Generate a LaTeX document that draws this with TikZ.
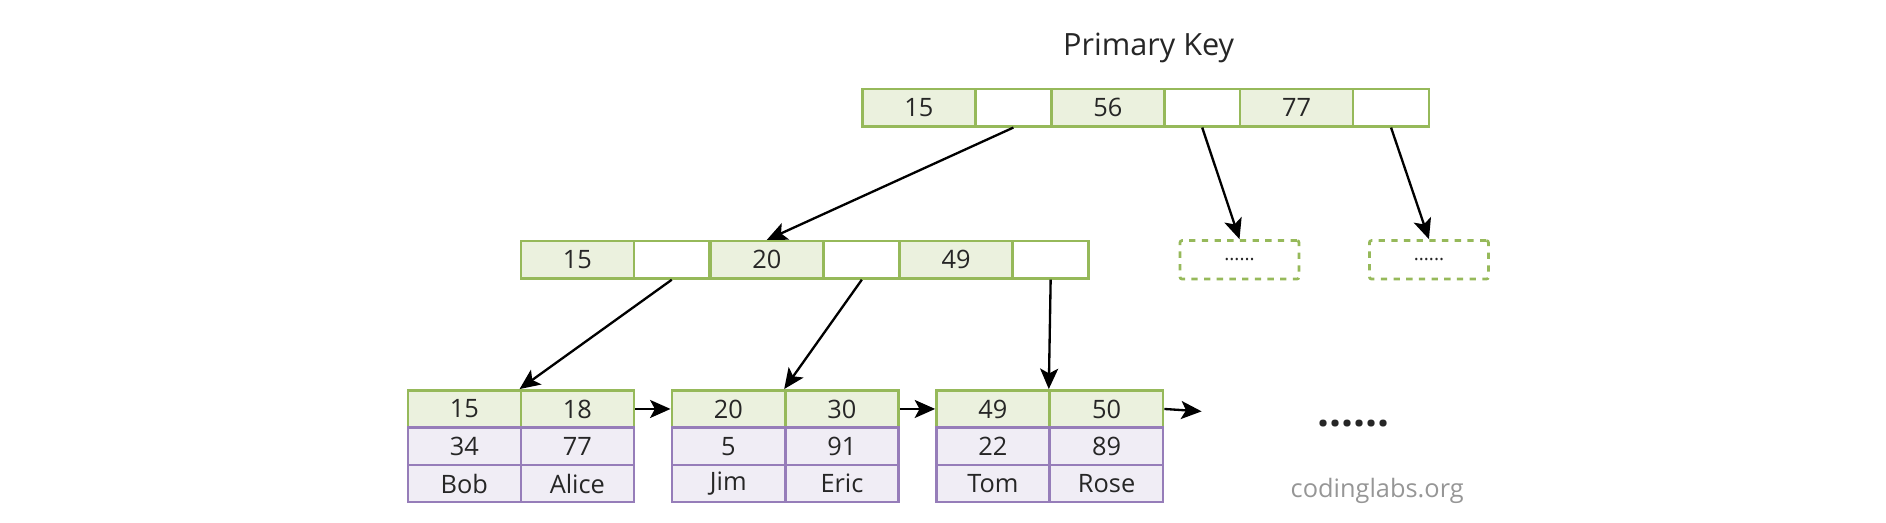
\documentclass[tikz,border=0pt]{standalone}
\usepackage{fontspec}
\setmainfont{Open Sans}
\usetikzlibrary{arrows.meta}
\definecolor{oliveGreen}{RGB}{150,185,90}
\definecolor{paleGreen}{RGB}{235,241,222}
\definecolor{lilac}{RGB}{150,125,185}
\definecolor{palePurple}{RGB}{240,237,245}
\definecolor{siteGray}{RGB}{150,150,150}

\begin{document}
\begin{tikzpicture}[x=0.02cm,y=-0.02cm,
    every node/.style={font=\fontsize{12}{14}\selectfont, inner sep=0pt, text=black!85},
    cell/.style={draw, line width=1.2pt, minimum height=0.62cm},
    keyCell/.style={cell, draw=oliveGreen, fill=paleGreen, minimum width=1.88cm},
    ptrCell/.style={cell, draw=oliveGreen, fill=white, minimum width=1.26cm},
    dataCell/.style={cell, draw=lilac, fill=palePurple, minimum width=1.88cm},
    stub/.style={draw=oliveGreen, dashed, line width=1.3pt, rounded corners=1pt, minimum width=1.98cm, minimum height=0.64cm},
    link/.style={-{Stealth[length=0.34cm,width=0.3cm,inset=0.08cm]}, line width=1.1pt}]
    \useasboundingbox (0,0) rectangle (1568,434);
    \node (title) at (955,40) {\fontsize{14.5}{17}\selectfont Primary Key};
    % root
    \node[keyCell] (r1) at (764,89.5) {15};
    \node[ptrCell] (r2) at (842.5,89.5) {};
    \node[keyCell] (r3) at (921,89.5) {56};
    \node[ptrCell] (r4) at (999.5,89.5) {};
    \node[keyCell] (r5) at (1078,89.5) {77};
    \node[ptrCell] (r6) at (1156.5,89.5) {};
    % inner level
    \node[keyCell] (m1) at (480,216) {15};
    \node[ptrCell] (m2) at (558.5,216) {};
    \node[keyCell] (m3) at (637.5,216) {20};
    \node[ptrCell] (m4) at (716.5,216) {};
    \node[keyCell] (m5) at (795,216) {49};
    \node[ptrCell] (m6) at (873.5,216) {};
    \node[stub] (d1) at (1030.5,216) {\fontsize{9}{11}\selectfont ......};
    \node[stub] (d2) at (1188,216) {\fontsize{9}{11}\selectfont ......};
    % leaves
    \node[keyCell] (l1a) at (386,340) {15};
    \node[keyCell] (l1b) at (480,340) {18};
    \node[dataCell] (l1c) at (386,371) {34};
    \node[dataCell] (l1d) at (480,371) {77};
    \node[dataCell] (l1e) at (386,402) {Bob};
    \node[dataCell] (l1f) at (480,402) {Alice};
    \node[keyCell] (l2a) at (605.5,340) {20};
    \node[keyCell] (l2b) at (700,340) {30};
    \node[dataCell] (l2c) at (605.5,371) {5};
    \node[dataCell] (l2d) at (700,371) {91};
    \node[dataCell] (l2e) at (605.5,402) {Jim};
    \node[dataCell] (l2f) at (700,402) {Eric};
    \node[keyCell] (l3a) at (825.5,340) {49};
    \node[keyCell] (l3b) at (920,340) {50};
    \node[dataCell] (l3c) at (825.5,371) {22};
    \node[dataCell] (l3d) at (920,371) {89};
    \node[dataCell] (l3e) at (825.5,402) {Tom};
    \node[dataCell] (l3f) at (920,402) {Rose};
    \coordinate (tail) at (999,342);
    \node (more) at (1125,352) {\fontsize{20}{22}\selectfont\bfseries ......};
    \node[text=siteGray] (site) at (1145,408) {codinglabs.org};
    % pointers
    \draw[link] (r2.south) -- (m3.north);
    \draw[link] (r4.south) -- (d1.north);
    \draw[link] (r6.south) -- (d2.north);
    \draw[link] (m2.south) -- (l1b.north west);
    \draw[link] (m4.south) -- (l2b.north west);
    \draw[link] (m6.south) -- (l3b.north west);
    \draw[link] (l1b.east) -- (l2a.west);
    \draw[link] (l2b.east) -- (l3a.west);
    \draw[link] (l3b.east) -- (tail);
\end{tikzpicture}
\end{document}
